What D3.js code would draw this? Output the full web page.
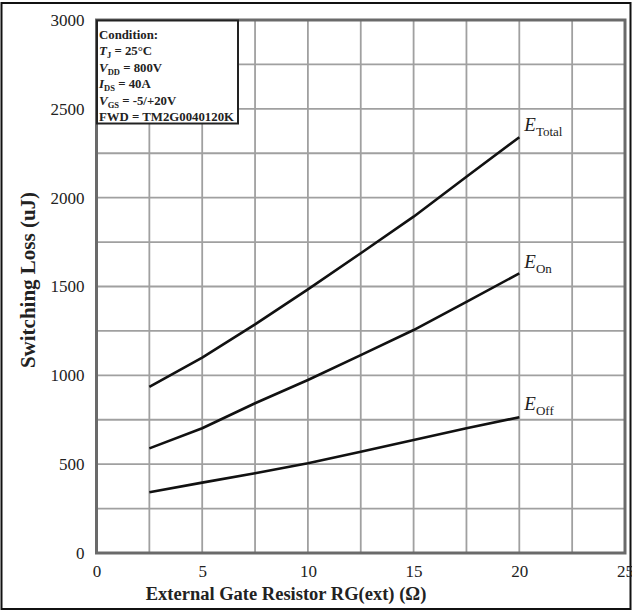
<!DOCTYPE html>
<html><head><meta charset="utf-8">
<script src="https://cdn.jsdelivr.net/npm/d3@7"></script>
<style>body{margin:0;background:#fff}svg{display:block}</style>
</head><body>
<svg id="c" width="632" height="611"></svg>
<script>
const rg = [2.5, 5, 7.5, 10, 12.5, 15, 17.5, 20];
const eTotal = [935, 1100, 1287, 1484, 1687, 1893, 2118, 2340];
const eOn = [589, 702, 843, 974, 1114, 1255, 1414, 1574];
const eOff = [342, 396, 449, 505, 570, 636, 702, 764];
const xTicks = [0, 5, 10, 15, 20, 25];
const yTicks = [0, 500, 1000, 1500, 2000, 2500, 3000];
const seriesNames = ["Total", "On", "Off"];
const conditionLines = [
  [["Condition:", null]],
  [["T", "i"], ["J", "s"], [" = 25°C", null]],
  [["V", "i"], ["DD", "s"], [" = 800V", null]],
  [["I", "i"], ["DS", "s"], [" = 40A", null]],
  [["V", "i"], ["GS", "s"], [" = -5/+20V", null]],
  [["FWD = TM2G0040120K", null]]
];

const svg = d3.select("#c");
const L = 96.5, R = 625, T = 20, B = 553;
const x = d3.scaleLinear().domain([0, 25]).range([L, R]);
const y = d3.scaleLinear().domain([0, 3000]).range([B, T]);
const serif = "'Liberation Serif','Times New Roman',serif";

// outer frame
svg.append("rect").attr("x", 1.5).attr("y", 3).attr("width", 629).attr("height", 606)
  .attr("fill", "none").attr("stroke", "#111").attr("stroke-width", 2);

// grid
const g = svg.append("g");
g.selectAll(".vg").data(d3.range(2.5, 25, 2.5)).join("line")
  .attr("x1", d => x(d)).attr("x2", d => x(d)).attr("y1", T).attr("y2", B)
  .attr("stroke", "#a0a0a0").attr("stroke-width", 1.8);
g.selectAll(".hg").data(d3.range(250, 3000, 250)).join("line")
  .attr("y1", d => y(d)).attr("y2", d => y(d)).attr("x1", L).attr("x2", R)
  .attr("stroke", "#a0a0a0").attr("stroke-width", 1.8);

// plot frame
svg.append("rect").attr("x", L).attr("y", T).attr("width", R - L).attr("height", B - T)
  .attr("fill", "none").attr("stroke", "#6a6a6a").attr("stroke-width", 3);

// axes labels
const xa = svg.append("g").attr("transform", `translate(0,${B})`)
  .call(d3.axisBottom(x).tickValues(xTicks).tickFormat(d3.format("d")).tickSize(0).tickPadding(12));
xa.select(".domain").remove();
xa.selectAll("text").attr("font-family", serif).attr("font-size", 17).attr("fill", "#222");
const ya = svg.append("g").attr("transform", `translate(${L},0)`)
  .call(d3.axisLeft(y).tickValues(yTicks).tickFormat(d3.format("d")).tickSize(0).tickPadding(12));
ya.select(".domain").remove();
ya.selectAll("text").attr("font-family", serif).attr("font-size", 17).attr("fill", "#222");

svg.append("text").attr("x", 286).attr("y", 600).attr("text-anchor", "middle")
  .attr("font-family", serif).attr("font-weight", "bold").attr("font-size", 18.5).attr("fill", "#222")
  .text("External Gate Resistor RG(ext) (Ω)");
svg.append("text").attr("transform", "translate(35,280) rotate(-90)").attr("text-anchor", "middle")
  .attr("font-family", serif).attr("font-weight", "bold").attr("font-size", 21).attr("fill", "#222")
  .text("Switching Loss (uJ)");

// lines
const line = d3.line().x((d, i) => x(rg[i])).y(d => y(d));
const all = [eTotal, eOn, eOff];
svg.selectAll(".curve").data(all).join("path")
  .attr("d", d => line(d)).attr("fill", "none").attr("stroke", "#111").attr("stroke-width", 2.6)
  .attr("stroke-linejoin", "round");

// series labels
const labelOff = [-6, -5, -7];
all.forEach((s, i) => {
  const t = svg.append("text").attr("x", x(20) + 5).attr("y", y(s[s.length - 1]) + labelOff[i])
    .attr("font-family", serif).attr("fill", "#222");
  t.append("tspan").attr("font-style", "italic").attr("font-size", 19).text("E");
  t.append("tspan").attr("font-size", 13).attr("dy", 5).text(seriesNames[i]);
});

// condition box
svg.append("rect").attr("x", 97).attr("y", 20.5).attr("width", 141).attr("height", 103)
  .attr("fill", "#fff").attr("stroke", "#222").attr("stroke-width", 2);
conditionLines.forEach((parts, i) => {
  const t = svg.append("text").attr("x", 99).attr("y", 39 + i * 16.4)
    .attr("font-family", serif).attr("font-weight", "bold").attr("font-size", 12.8).attr("fill", "#222");
  parts.forEach(([txt, kind]) => {
    const sp = t.append("tspan").text(txt);
    if (kind === "i") sp.attr("font-style", "italic").attr("font-size", 13);
    if (kind === "s") sp.attr("font-size", 8.5).attr("dy", 3);
    else if (kind === null && parts.length > 1) sp.attr("dy", -3);
  });
});
</script>
</body></html>
